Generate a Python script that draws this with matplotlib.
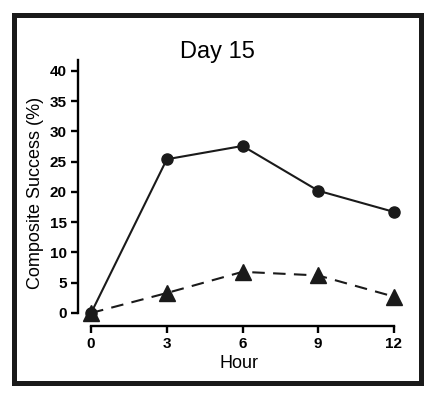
import matplotlib.pyplot as plt
from matplotlib.patches import Rectangle

hours = [0, 3, 6, 9, 12]
circle_vals = [0, 25.4, 27.6, 20.2, 16.7]
triangle_vals = [0, 3.3, 6.8, 6.2, 2.7]
x_ticks = [0, 3, 6, 9, 12]
y_ticks = [0, 5, 10, 15, 20, 25, 30, 35, 40]

plt.rcParams["font.family"] = ["Liberation Sans", "DejaVu Sans"]

fig = plt.figure(figsize=(4.35, 3.96), dpi=100)
fig.patches.append(Rectangle((14 / 435, 1 - 383 / 396), 407 / 435, 368 / 396,
                             transform=fig.transFigure, fill=False,
                             edgecolor="#1a1a1a", linewidth=3.6))

ax = fig.add_axes([78 / 435, 1 - 326 / 396, 322 / 435, 266 / 396])
ax.plot(hours, circle_vals, "-", color="#1a1a1a", lw=1.5,
        marker="o", markersize=8, clip_on=False)
ax.plot(hours, triangle_vals, "--", color="#1a1a1a", lw=1.5, dashes=(6, 4),
        marker="^", markersize=11, clip_on=False)

ax.set_xlim(-0.52, 12.24)
ax.set_ylim(-2.15, 41.8)
ax.spines["top"].set_visible(False)
ax.spines["right"].set_visible(False)
ax.spines["left"].set_bounds(0, 41.8)
ax.spines["bottom"].set_bounds(0, 12)
for s in ("left", "bottom"):
    ax.spines[s].set_linewidth(1.7)
ax.set_xticks(x_ticks)
ax.set_yticks(y_ticks)
ax.tick_params(width=1.7, length=5, labelsize=11, pad=3)
for lbl in ax.get_xticklabels() + ax.get_yticklabels():
    lbl.set_fontweight("bold")

ax.set_xlabel("Hour", fontsize=13, labelpad=3)
ax.set_ylabel("Composite Success (%)", fontsize=13, labelpad=4)
fig.text(217 / 435, 1 - 52 / 396, "Day 15", fontsize=17, ha="center", va="center")

fig.savefig("out.png", dpi=100)
